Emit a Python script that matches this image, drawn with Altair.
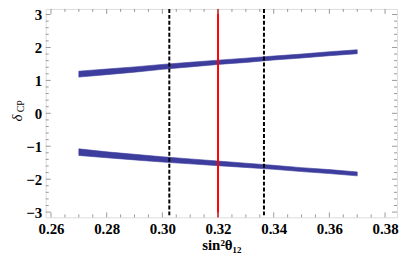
import altair as alt
import pandas as pd

# ---- data ----
x_vals = [0.27, 0.28, 0.29, 0.30, 0.31, 0.32, 0.33, 0.34, 0.35, 0.36, 0.37]
upper_hi = [1.28, 1.345, 1.41, 1.485, 1.55, 1.615, 1.675, 1.74, 1.80, 1.87, 1.93]
upper_lo = [1.10, 1.175, 1.25, 1.335, 1.41, 1.485, 1.545, 1.62, 1.68, 1.75, 1.81]
lower_hi = [-1.08, -1.17, -1.245, -1.32, -1.385, -1.45, -1.515, -1.58, -1.65, -1.71, -1.78]
lower_lo = [-1.28, -1.35, -1.415, -1.48, -1.535, -1.59, -1.645, -1.70, -1.77, -1.83, -1.90]

best_fit = [0.32]
range_1sigma = [0.3025, 0.3365]

x_major = [0.26, 0.28, 0.30, 0.32, 0.34, 0.36, 0.38]
x_minor = [0.265, 0.27, 0.275, 0.285, 0.29, 0.295, 0.305, 0.31, 0.315,
           0.325, 0.33, 0.335, 0.345, 0.35, 0.355, 0.365, 0.37, 0.375]
y_major = [-3, -2, -1, 0, 1, 2, 3]
y_minor = [-2.8, -2.6, -2.4, -2.2, -1.8, -1.6, -1.4, -1.2, -0.8, -0.6, -0.4, -0.2,
           0.2, 0.4, 0.6, 0.8, 1.2, 1.4, 1.6, 1.8, 2.2, 2.4, 2.6, 2.8]

W, H = 354, 210
FONT = "Liberation Serif"
BAND = "#3d3d9e"
FRAME = "#999999"

xs = alt.Scale(domain=[0.2581, 0.3843], nice=False, zero=False)
ys = alt.Scale(domain=[-3.16, 3.17], nice=False, zero=False)

xaxis = alt.Axis(values=x_major, format=".2f", ticks=False, domain=False, grid=False,
                 labelFont=FONT, labelFontSize=15, labelFontWeight="bold", labelColor="black",
                 labelPadding=4, title="sin²θ₁₂", titleFont=FONT, titleFontSize=15,
                 titleFontWeight="bold", titleColor="black", titlePadding=1)
yaxis = alt.Axis(values=y_major, format="d", ticks=False, domain=False, grid=False,
                 labelFont=FONT, labelFontSize=15, labelFontWeight="bold", labelColor="black",
                 labelPadding=4, title=None)

X = lambda f: alt.X(f + ":Q", scale=xs, axis=xaxis)
Y = lambda f: alt.Y(f + ":Q", scale=ys, axis=yaxis)

bands = pd.DataFrame({"x": x_vals, "uh": upper_hi, "ul": upper_lo,
                      "lh": lower_hi, "ll": lower_lo})

upper = alt.Chart(bands).mark_area(color=BAND, stroke=BAND, strokeWidth=0.6).encode(
    x=X("x"), y=Y("ul"), y2="uh")
lower = alt.Chart(bands).mark_area(color=BAND, stroke=BAND, strokeWidth=0.6).encode(
    x=X("x"), y=Y("ll"), y2="lh")

red = alt.Chart(pd.DataFrame({"x": best_fit})).mark_rule(color="#ff0000", strokeWidth=2).encode(x=X("x"))
dashed = alt.Chart(pd.DataFrame({"x": range_1sigma})).mark_rule(
    color="black", strokeWidth=2, strokeDash=[4, 2]).encode(x=X("x"))

def xticks(vals, length):
    d = pd.DataFrame({"x": vals})
    b = alt.Chart(d).mark_rule(color=FRAME, strokeWidth=1).encode(
        x=X("x"), y=alt.value(H), y2=alt.value(H - length))
    t = alt.Chart(d).mark_rule(color=FRAME, strokeWidth=1).encode(
        x=X("x"), y=alt.value(0), y2=alt.value(length))
    return [b, t]

def yticks(vals, length):
    d = pd.DataFrame({"y": vals})
    l = alt.Chart(d).mark_rule(color=FRAME, strokeWidth=1).encode(
        y=Y("y"), x=alt.value(0), x2=alt.value(length))
    r = alt.Chart(d).mark_rule(color=FRAME, strokeWidth=1).encode(
        y=Y("y"), x=alt.value(W), x2=alt.value(W - length))
    return [l, r]

delta = alt.Chart(pd.DataFrame({"t": ["δ"]})).mark_text(
    angle=270, font=FONT, fontSize=15, fontStyle="italic", color="black").encode(
    text="t:N", x=alt.value(-29), y=alt.value(110))
cp = alt.Chart(pd.DataFrame({"t": ["CP"]})).mark_text(
    angle=270, font=FONT, fontSize=10, color="black").encode(
    text="t:N", x=alt.value(-25), y=alt.value(98))

layers = [upper, lower, red, dashed] + xticks(x_major, 5) + xticks(x_minor, 3) \
    + yticks(y_major, 5) + yticks(y_minor, 3) + [delta, cp]

chart = alt.layer(*layers).properties(
    width=W, height=H,
    autosize=alt.AutoSizeParams(type="none"),
    padding={"left": 38, "top": 0, "right": 4, "bottom": 40},
).configure_view(stroke=FRAME, strokeWidth=1).configure_axis(
    labelFont=FONT, labelFontSize=15, labelFontWeight="bold", labelColor="black",
    titleFont=FONT, titleFontWeight="bold", titleColor="black",
).configure(background="white")

chart.save("out.html", embed_options={"renderer": "svg", "actions": False})
